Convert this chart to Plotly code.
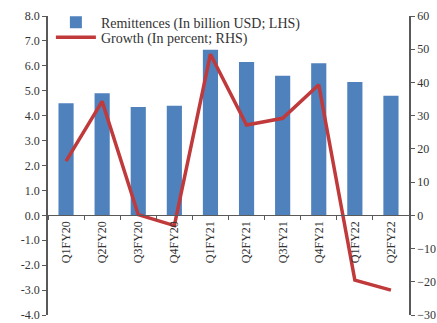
import plotly.graph_objects as go

quarters = ["Q1FY20", "Q2FY20", "Q3FY20", "Q4FY20", "Q1FY21",
            "Q2FY21", "Q3FY21", "Q4FY21", "Q1FY22", "Q2FY22"]
remittances = [4.5, 4.9, 4.35, 4.4, 6.65, 6.15, 5.6, 6.1, 5.35, 4.8]
growth = [16.3, 34.3, 0.2, -3.1, 48.5, 27.2, 29.2, 39.3, -19.5, -22.5]

left_ticks = [-4, -3, -2, -1, 0, 1, 2, 3, 4, 5, 6, 7, 8]
right_ticks = [-30, -20, -10, 0, 10, 20, 30, 40, 50, 60]

serif = "Liberation Serif, Times New Roman, serif"
axis_col = "#595959"
text_col = "#333333"
y_min, y_max = -4, 8

fig = go.Figure()
fig.add_trace(go.Bar(
    x=quarters, y=remittances, name="Remittences (In billion USD; LHS)",
    marker=dict(color="#4F81BD", line=dict(width=0)), yaxis="y", legend="legend",
))
fig.add_trace(go.Scatter(
    x=quarters, y=growth, name="Growth (In percent; RHS)", mode="lines",
    line=dict(color="#C0393B", width=3.5), yaxis="y2", legend="legend2",
))

legend_common = dict(xanchor="left", yanchor="middle", bgcolor="rgba(0,0,0,0)",
                     font=dict(family=serif, size=14, color=text_col),
                     itemwidth=40, borderwidth=0)

fig.update_layout(
    width=437, height=323,
    margin=dict(l=48, r=28, t=16, b=8, autoexpand=False),
    plot_bgcolor="white", paper_bgcolor="white",
    bargap=0.58,
    font=dict(family=serif, size=12, color=text_col),
    showlegend=True,
    legend=dict(x=0.008, y=0.978, **legend_common),
    legend2=dict(x=0.008, y=0.928, **legend_common),
    xaxis=dict(
        type="category", anchor="free", position=(0 - y_min) / (y_max - y_min),
        showline=True, linecolor=axis_col, linewidth=1,
        ticks="outside", tickson="boundaries", ticklen=4, tickcolor=axis_col,
        tickangle=-90, tickfont=dict(family=serif, size=12, color=text_col),
        showgrid=False, zeroline=False, automargin=False,
    ),
    yaxis=dict(
        range=[y_min, y_max], tickvals=left_ticks,
        ticktext=[f"{v:.1f}" for v in left_ticks],
        showline=True, linecolor=axis_col, linewidth=1.5,
        ticks="outside", ticklen=4, tickcolor=axis_col,
        showgrid=False, zeroline=False, ticklabeloverflow="allow", automargin=False,
        tickfont=dict(family=serif, size=12, color=text_col),
    ),
    yaxis2=dict(
        range=[-30, 60], tickvals=right_ticks, overlaying="y", side="right",
        showline=True, linecolor=axis_col, linewidth=1.5,
        ticks="outside", ticklen=4, tickcolor=axis_col,
        showgrid=False, zeroline=False, ticklabeloverflow="allow", automargin=False,
        tickfont=dict(family=serif, size=12, color=text_col),
    ),
)

fig.write_html("out.html")
